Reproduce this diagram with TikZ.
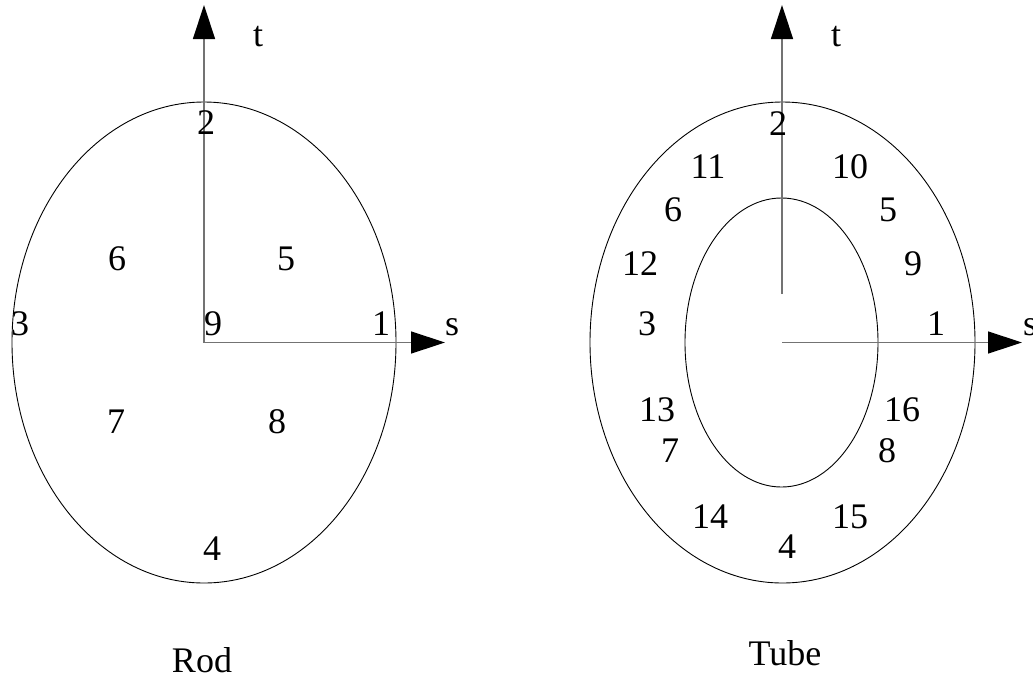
\documentclass[tikz,border=0pt]{standalone}
\usepackage{fontspec}
\setmainfont{Liberation Serif}
\usetikzlibrary{arrows.meta}
\begin{document}
\begin{tikzpicture}[x=1pt,y=-1pt,
  lbl/.style={anchor=base,inner sep=0pt,font=\fontsize{36}{42}\selectfont},
  axis/.style={draw=black!55,line width=1.4pt,-{Triangle[length=34pt,width=22pt,color=black,fill=black]}},
  ring/.style={draw=black,line width=0.9pt}]
\useasboundingbox (0,0) rectangle (1033,678);
% ---------- Rod ----------
\draw[ring] (204,342.5) ellipse [x radius=192, y radius=240.5];
\coordinate (oL) at (204,342.5);
\coordinate (tL) at (204,5);
\coordinate (sL) at (445,342.5);
\draw[axis] (oL) -- (tL);
\draw[axis] (oL) -- (sL);
\node[lbl] (tLlab) at (258,46) {t};
\node[lbl] (sLlab) at (452,335) {s};
\node[lbl] (r2) at (206,134) {2};
\node[lbl] (r6) at (117,270) {6};
\node[lbl] (r5) at (286,270) {5};
\node[lbl] (r3) at (20,335) {3};
\node[lbl] (r9) at (213,335) {9};
\node[lbl] (r1) at (381,335) {1};
\node[lbl] (r7) at (116,433) {7};
\node[lbl] (r8) at (277,433) {8};
\node[lbl] (r4) at (212,560) {4};
\node[lbl] (rod) at (202,672) {Rod};
% ---------- Tube ----------
\draw[ring] (782.5,342.5) ellipse [x radius=192.5, y radius=240.5];
\draw[ring] (781.5,342.5) ellipse [x radius=96.5, y radius=144.5];
\coordinate (oR) at (782,342.5);
\coordinate (oRt) at (782,294);
\coordinate (tR) at (782,5);
\coordinate (sR) at (1022,342.5);
\draw[axis] (oRt) -- (tR);
\draw[axis] (oR) -- (sR);
\node[lbl] (tRlab) at (836,46) {t};
\node[lbl,anchor=base west] (sRlab) at (1023,335) {s};
\node[lbl] (u2) at (778,135) {2};
\node[lbl] (u11) at (708,178) {11};
\node[lbl] (u10) at (850,178) {10};
\node[lbl] (u6) at (673,221) {6};
\node[lbl] (u5) at (888,221) {5};
\node[lbl] (u12) at (640,275) {12};
\node[lbl] (u9) at (913,275) {9};
\node[lbl] (u3) at (647,335) {3};
\node[lbl] (u1) at (936,335) {1};
\node[lbl] (u13) at (657,421) {13};
\node[lbl] (u16) at (902,421) {16};
\node[lbl] (u7) at (670,462) {7};
\node[lbl] (u8) at (887,462) {8};
\node[lbl] (u14) at (710,528) {14};
\node[lbl] (u15) at (850,528) {15};
\node[lbl] (u4) at (787,558) {4};
\node[lbl] (tube) at (785,665) {Tube};
\end{tikzpicture}
\end{document}
